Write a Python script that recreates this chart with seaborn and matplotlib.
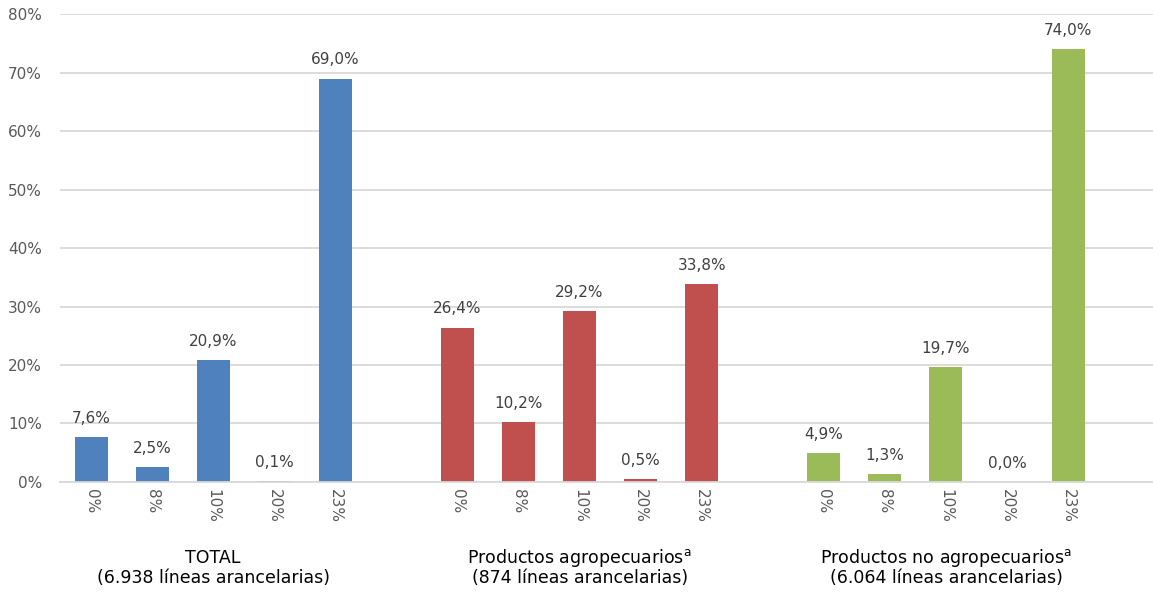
import pandas as pd
import seaborn as sns
import matplotlib.pyplot as plt
import matplotlib.transforms as mtransforms

# Data
rates = ["0%", "8%", "10%", "20%", "23%"]
total = [7.6, 2.5, 20.9, 0.1, 69.0]
agro = [26.4, 10.2, 29.2, 0.5, 33.8]
no_agro = [4.9, 1.3, 19.7, 0.0, 74.0]
group_titles = ["TOTAL", "Productos agropecuarios$^{a}$", "Productos no agropecuarios$^{a}$"]
group_counts = ["(6.938 líneas arancelarias)", "(874 líneas arancelarias)",
                "(6.064 líneas arancelarias)"]
group_keys = ["total", "agro", "no_agro"]
colors = ["#4F81BD", "#C0504D", "#9BBB59"]

rows = []
for key, vals in zip(group_keys, [total, agro, no_agro]):
    for r, v in zip(rates, vals):
        rows.append({"slot": key + "_" + r, "group": key, "rate": r, "value": v})
df = pd.DataFrame(rows)

# category order with one empty slot between groups (Excel style spacing)
order = []
tick_labels = []
for key in group_keys:
    for r in rates:
        order.append(key + "_" + r)
        tick_labels.append(r)
    order.append(key + "_blank")
    tick_labels.append("")

sns.set_style("white")
plt.rcParams['font.family'] = ['DejaVu Sans']
plt.rcParams['mathtext.default'] = 'regular'

fig = plt.figure(figsize=(11.53, 5.92), dpi=100)
ax = fig.add_axes([60 / 1153, 0.186, 1093 / 1153, 0.79])

sns.barplot(data=df, x="slot", y="value", hue="group", order=order,
            hue_order=group_keys, palette=colors, dodge=False, saturation=1,
            width=0.54, linewidth=0, legend=False, ax=ax)

ax.set_ylim(0, 80)
ax.set_xlim(-0.508, 17.39)
ax.set_yticks(range(0, 81, 10))
ax.set_yticklabels([f"{t}%" for t in range(0, 81, 10)], color="#595959", fontsize=11)
ax.set_xticks(range(len(order)))
ax.set_xticklabels(tick_labels, rotation=-90, color="#595959", fontsize=11)
ax.tick_params(axis="x", length=0, pad=5)
ax.tick_params(axis="y", length=0, pad=13)
ax.set_xlabel("")
ax.set_ylabel("")

ax.grid(axis="y", color="#D9D9D9", linewidth=1.3)
ax.set_axisbelow(True)
for s in ["top", "right", "left"]:
    ax.spines[s].set_visible(False)
ax.spines["bottom"].set_color("#D9D9D9")
ax.spines["bottom"].set_linewidth(1.3)

for cont in ax.containers:
    ax.bar_label(cont, labels=[f"{v:.1f}%".replace(".", ",") for v in cont.datavalues],
                 padding=8, color="#404040", fontsize=11)

# group labels below the rate labels
trans = mtransforms.blended_transform_factory(ax.transData, ax.transAxes)
for i, (title, count) in enumerate(zip(group_titles, group_counts)):
    center = i * 6 + 2
    ax.text(center, -0.1625, title, transform=trans, ha="center", va="center",
            fontsize=12.5, color="black")
    ax.text(center, -0.2053, count, transform=trans, ha="center", va="center",
            fontsize=12.5, color="black")

fig.savefig("out.png", dpi=100)
